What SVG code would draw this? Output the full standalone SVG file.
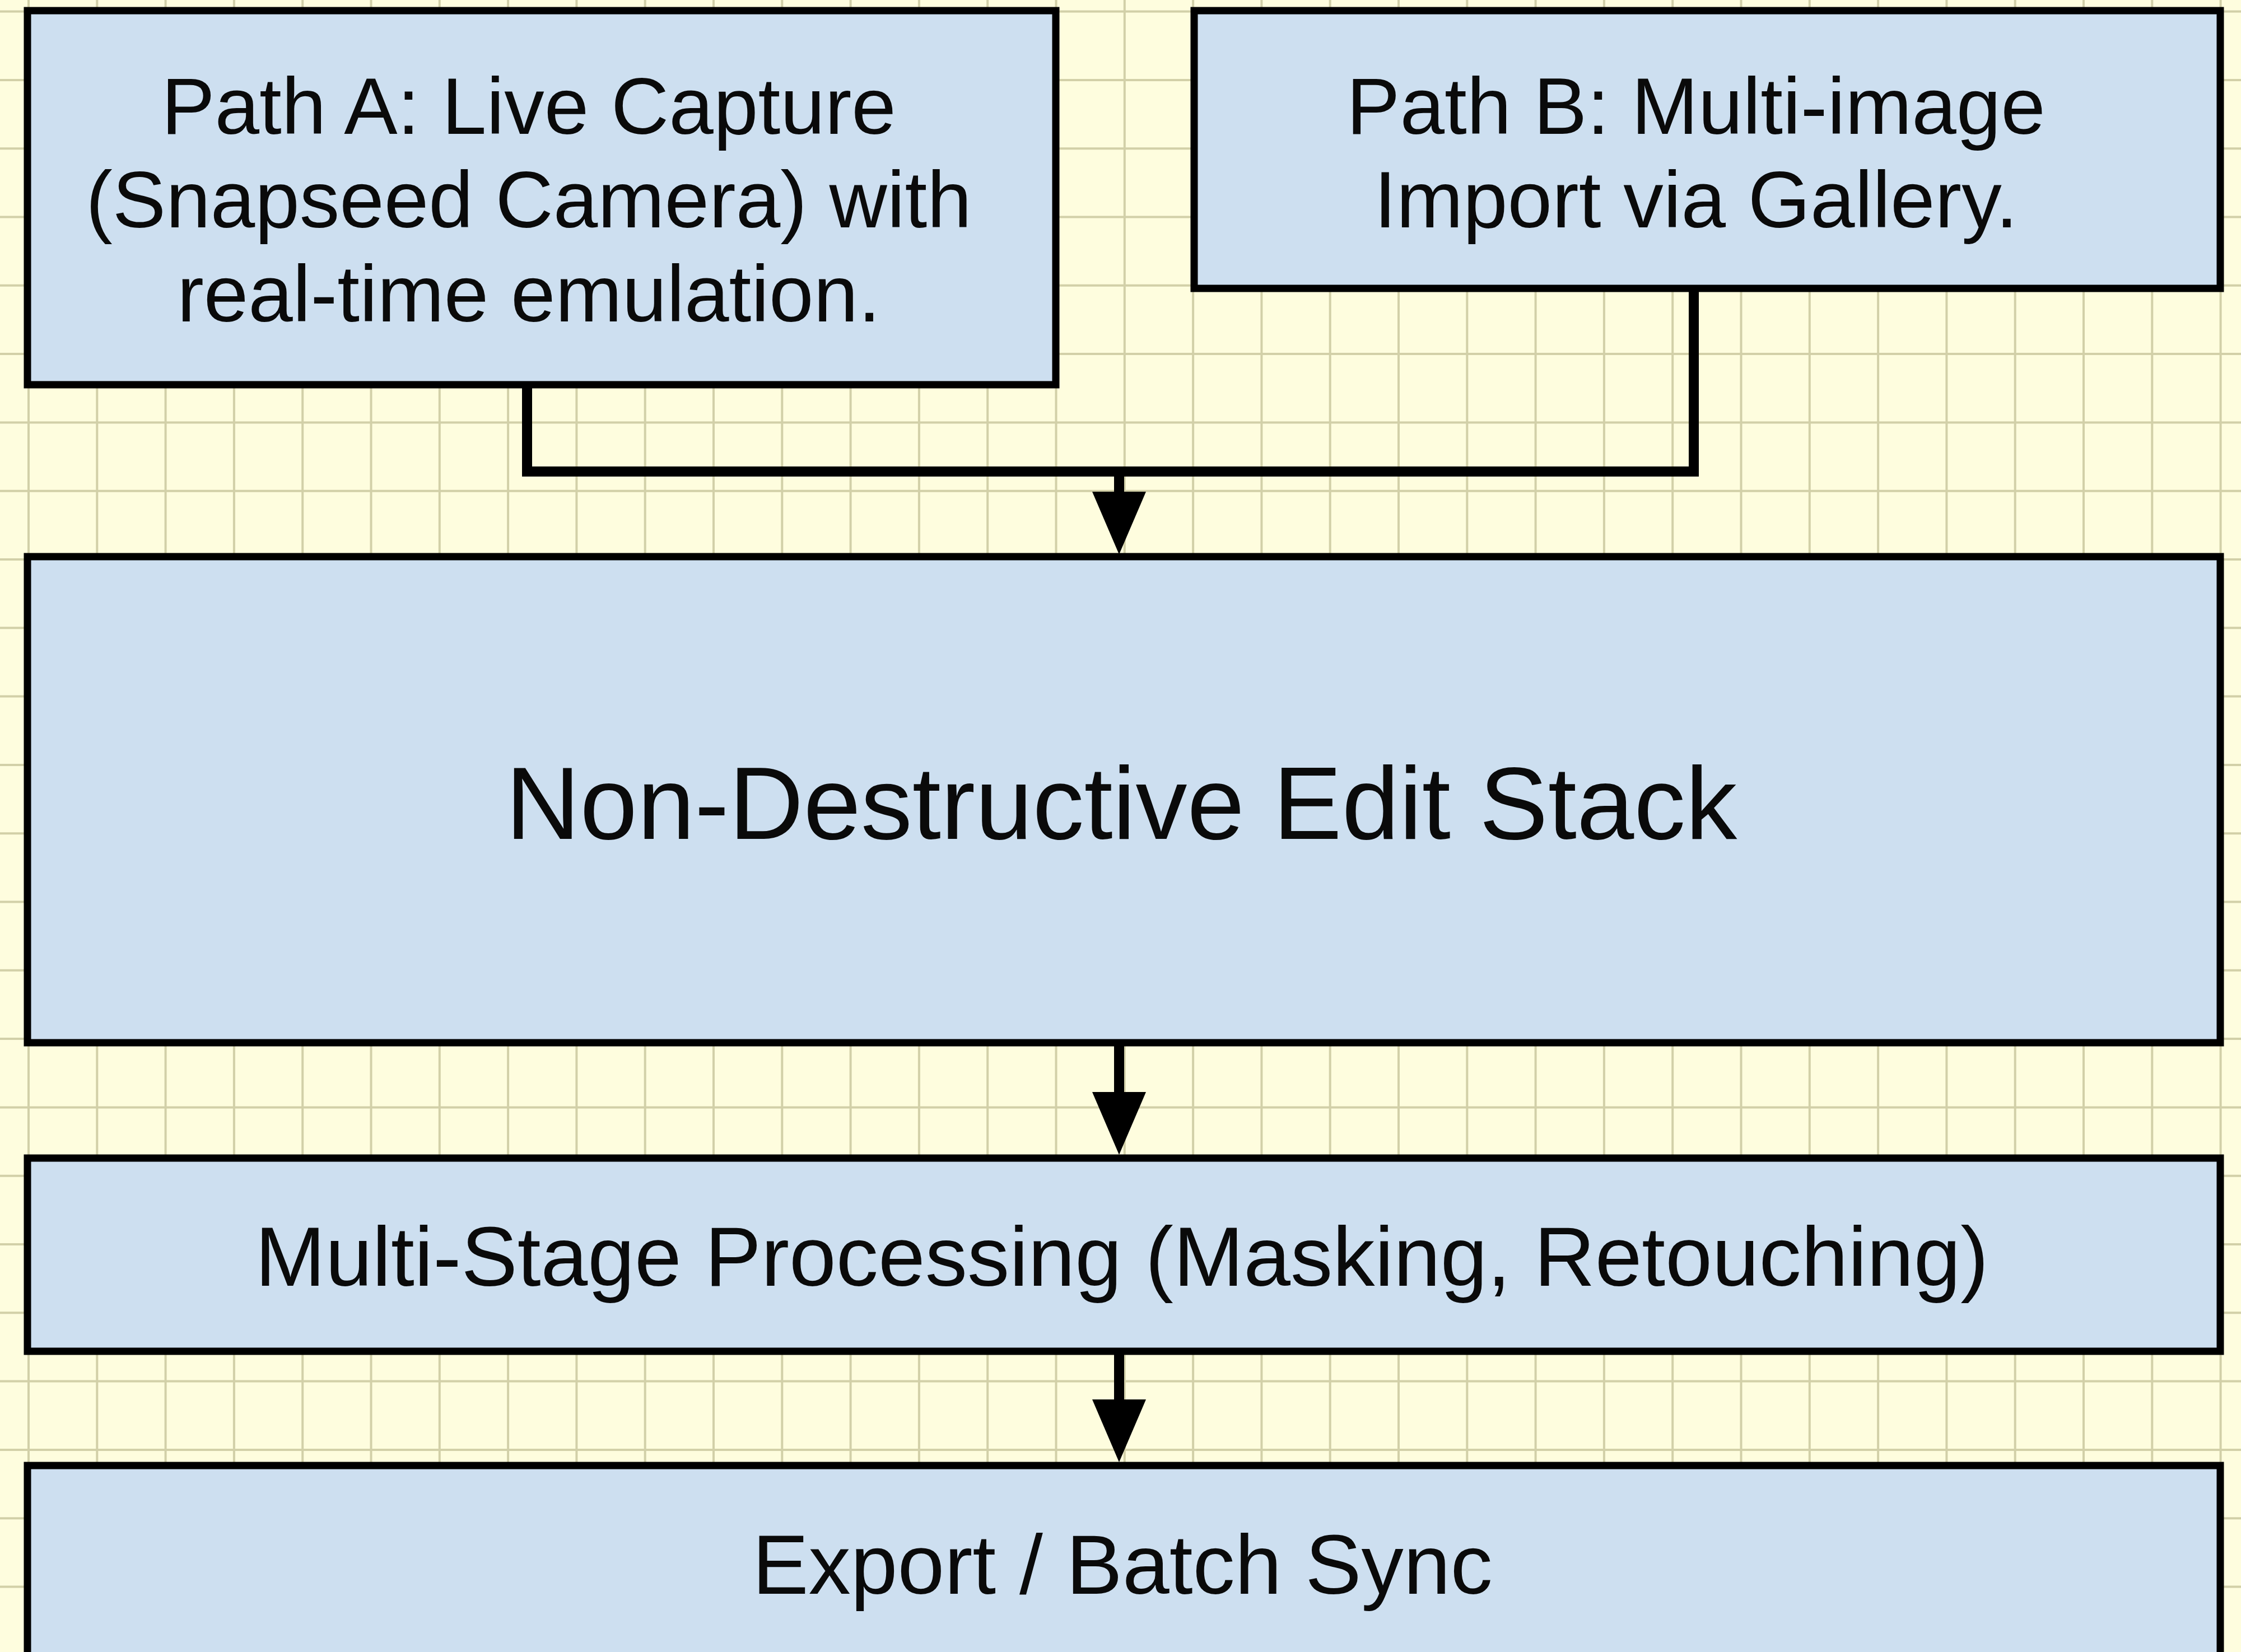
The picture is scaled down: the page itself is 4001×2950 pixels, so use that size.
<svg xmlns="http://www.w3.org/2000/svg" width="4001" height="2950" viewBox="0 0 4001 2950">
<style>
.bg{fill:#fefdde}
.grid{stroke:#d2d0a8;stroke-width:4;fill:none}
.box{fill:#cddff0;stroke:#000;stroke-width:13}
.conn{stroke:#000;stroke-width:18;fill:none;stroke-linejoin:miter}
.t{font-family:"Liberation Sans",Arial,sans-serif;fill:#0a0a0a;text-anchor:middle}
.s1{font-size:143px}
.s2{font-size:184px}
.s3{font-size:150.5px}
</style>
<defs>
<marker id="ah" markerUnits="userSpaceOnUse" viewBox="0 0 112 96" refX="0" refY="48" markerWidth="112" markerHeight="96" orient="auto">
<path d="M0,0 L112,48 L0,96 Z" fill="#000"/>
</marker>
</defs>
<rect class="bg" x="0" y="0" width="4001" height="2950"/>
<path class="grid" d="M51 0V2950M173.3 0V2950M295.6 0V2950M417.9 0V2950M540.2 0V2950M662.5 0V2950M784.8 0V2950M907.1 0V2950M1029.4 0V2950M1151.7 0V2950M1274 0V2950M1396.3 0V2950M1518.6 0V2950M1640.9 0V2950M1763.2 0V2950M1885.5 0V2950M2007.8 0V2950M2130.1 0V2950M2252.4 0V2950M2374.7 0V2950M2497 0V2950M2619.3 0V2950M2741.6 0V2950M2863.9 0V2950M2986.2 0V2950M3108.5 0V2950M3230.8 0V2950M3353.1 0V2950M3475.4 0V2950M3597.7 0V2950M3720 0V2950M3842.3 0V2950M3964.6 0V2950M0 20.6H4001M0 142.9H4001M0 265.2H4001M0 387.5H4001M0 509.8H4001M0 632.1H4001M0 754.4H4001M0 876.7H4001M0 999H4001M0 1121.3H4001M0 1243.6H4001M0 1365.9H4001M0 1488.2H4001M0 1610.5H4001M0 1732.8H4001M0 1855.1H4001M0 1977.4H4001M0 2099.7H4001M0 2222H4001M0 2344.3H4001M0 2466.6H4001M0 2588.9H4001M0 2711.2H4001M0 2833.5H4001"/>
<g id="connectors">
<path class="conn" d="M941 687V842H3024V515"/>
<path class="conn" d="M1998 842V878" marker-end="url(#ah)"/>
<path class="conn" d="M1998 1862V1950" marker-end="url(#ah)"/>
<path class="conn" d="M1998 2413V2499" marker-end="url(#ah)"/>
</g>
<g id="node-path-a">
<rect class="box" x="49" y="19" width="1836" height="668"/>
<text class="t s1" x="944" y="239">Path A: Live Capture</text>
<text class="t s1" x="944" y="406">(Snapseed Camera) with</text>
<text class="t s1" x="944" y="574">real-time emulation.</text>
</g>
<g id="node-path-b">
<rect class="box" x="2132" y="19" width="1832" height="496"/>
<text class="t s1" x="3028" y="239">Path B: Multi-image</text>
<text class="t s1" x="3028" y="406">Import via Gallery.</text>
</g>
<g id="node-edit-stack">
<rect class="box" x="49" y="994" width="3915" height="868"/>
<text class="t s2" x="2002" y="1498">Non-Destructive Edit Stack</text>
</g>
<g id="node-processing">
<rect class="box" x="49" y="2068" width="3915" height="345"/>
<text class="t s3" x="2003" y="2296">Multi-Stage Processing (Masking, Retouching)</text>
</g>
<g id="node-export">
<rect class="box" x="49" y="2617" width="3915" height="500"/>
<text class="t s3" x="2004" y="2846">Export / Batch Sync</text>
</g>
</svg>
